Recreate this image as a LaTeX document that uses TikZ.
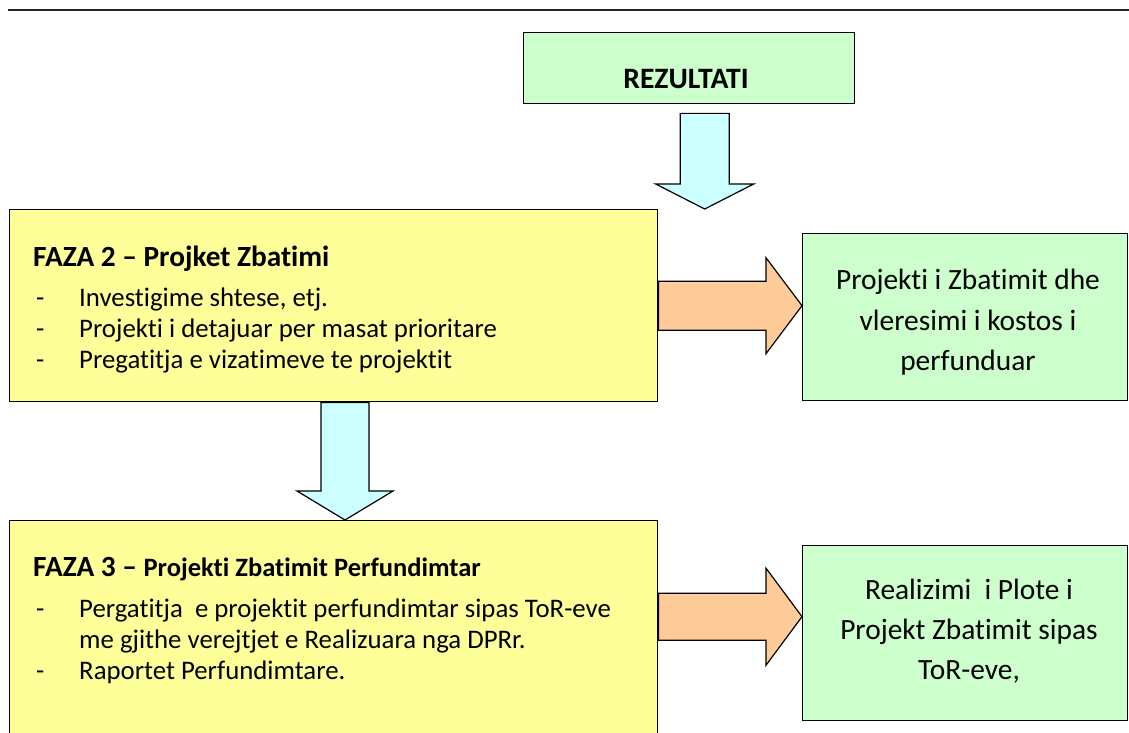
\documentclass[tikz,border=0pt]{standalone}
\usepackage{fontspec}
\setmainfont{Carlito}[Ligatures=NoCommon]
\usetikzlibrary{calc}
\definecolor{boxyellow}{HTML}{FFFF99}
\definecolor{boxgreen}{HTML}{CCFFCC}
\definecolor{arrblue}{HTML}{CCFFFF}
\definecolor{arrorange}{HTML}{FFCC99}
\begin{document}
\begin{tikzpicture}[x=1pt,y=-1pt,
  box/.style={draw=black, line width=1.4pt, inner sep=0pt, anchor=north west},
  blockarrow/.style={draw=black, line width=1.2pt, line join=miter},
  bodytext/.style={inner sep=0pt, anchor=base west, font=\fontsize{26.8}{31}\selectfont},
  headtext/.style={inner sep=0pt, anchor=base west, font=\fontsize{29.3}{34}\selectfont\bfseries},
  greentext/.style={inner sep=0pt, anchor=base, font=\fontsize{29.4}{35}\selectfont}]
\useasboundingbox (0,0) rectangle (1129,733);
\clip (0,0) rectangle (1129,733);
% top rule
\coordinate (ruleL) at (8,10);
\coordinate (ruleR) at (1129,10);
\draw[line width=2.2pt, black!85] (ruleL) -- (ruleR);
% boxes
\node[box, fill=boxgreen, minimum width=331pt, minimum height=71pt] (rez) at (523,32) {};
\node[box, fill=boxyellow, minimum width=648pt, minimum height=192pt] (f2) at (9,209) {};
\node[box, fill=boxgreen, minimum width=325pt, minimum height=167pt] (g2) at (802,233) {};
\node[box, fill=boxyellow, minimum width=648pt, minimum height=230pt] (f3) at (9,520) {};
\node[box, fill=boxgreen, minimum width=325pt, minimum height=175pt] (g3) at (802,545) {};
% texts
\node[inner sep=0pt, anchor=base, font=\fontsize{29.6}{34}\selectfont\bfseries] (reztxt) at (686,89) {REZULTATI};
\node[headtext] (f2h) at (33,266) {FAZA 2 – Projket Zbatimi};
\node[bodytext] (f2b1) at (36,306) {-};
\node[bodytext] (f2t1) at (79,306) {Investigime shtese, etj.};
\node[bodytext] (f2b2) at (36,337) {-};
\node[bodytext] (f2t2) at (79,337) {Projekti i detajuar per masat prioritare};
\node[bodytext] (f2b3) at (36,368) {-};
\node[bodytext] (f2t3) at (79,368) {Pregatitja e vizatimeve te projektit};
\node[headtext] (f3h) at (33,576) {FAZA 3 – {\fontsize{26.5}{31}\selectfont Projekti Zbatimit Perfundimtar}};
\node[bodytext] (f3b1) at (36,617) {-};
\node[bodytext] (f3t1) at (79,617) {Pergatitja\ \ e projektit perfundimtar sipas ToR-eve};
\node[bodytext] (f3t2) at (79,648) {me gjithe verejtjet e Realizuara nga DPRr.};
\node[bodytext] (f3b3) at (36,679) {-};
\node[bodytext] (f3t3) at (79,679) {Raportet Perfundimtare.};
\node[greentext] (g2t1) at (968,289) {Projekti i Zbatimit dhe};
\node[greentext] (g2t2) at (968,330) {vleresimi i kostos i};
\node[greentext] (g2t3) at (968,370) {perfunduar};
\node[greentext] (g3t1) at (969,599) {Realizimi\ \ i Plote i};
\node[greentext] (g3t2) at (969,639) {Projekt Zbatimit sipas};
\node[greentext] (g3t3) at (969,679) {ToR-eve,};
% arrow 1: REZULTATI -> FAZA 2
\coordinate (a1s) at ($(rez.south)+(15.5,9)$);
\coordinate (a1t) at (a1s |- f2.north);
\draw[blockarrow, fill=arrblue] ($(a1s)+(-24.5,0)$) -- ($(a1s)+(24.5,0)$) -- ($(a1t)+(24.5,-25)$) -- ($(a1t)+(49,-25)$) -- (a1t) -- ($(a1t)+(-49,-25)$) -- ($(a1t)+(-24.5,-25)$) -- cycle;
% arrow 2: FAZA 2 -> FAZA 3
\coordinate (a2s) at ($(f2.south west)+(336,0)$);
\coordinate (a2t) at (a2s |- f3.north);
\draw[blockarrow, fill=arrblue] ($(a2s)+(-24,0)$) -- ($(a2s)+(24,0)$) -- ($(a2t)+(24,-29)$) -- ($(a2t)+(48,-29)$) -- (a2t) -- ($(a2t)+(-48,-29)$) -- ($(a2t)+(-24,-29)$) -- cycle;
% arrow 3: FAZA 2 -> green 2
\coordinate (a3t) at ($(g2.west)+(0,-11.5)$);
\coordinate (a3s) at (f2.east |- a3t);
\draw[blockarrow, fill=arrorange] ($(a3s)+(0,-24.5)$) -- ($(a3t)+(-36,-24.5)$) -- ($(a3t)+(-36,-48)$) -- (a3t) -- ($(a3t)+(-36,48)$) -- ($(a3t)+(-36,24.5)$) -- ($(a3s)+(0,24.5)$) -- cycle;
% arrow 4: FAZA 3 -> green 3
\coordinate (a4t) at ($(g3.west)+(0,-16.5)$);
\coordinate (a4s) at (f3.east |- a4t);
\draw[blockarrow, fill=arrorange] ($(a4s)+(0,-23.5)$) -- ($(a4t)+(-36,-23.5)$) -- ($(a4t)+(-36,-48.5)$) -- (a4t) -- ($(a4t)+(-36,48.5)$) -- ($(a4t)+(-36,23.5)$) -- ($(a4s)+(0,23.5)$) -- cycle;
\end{tikzpicture}
\end{document}
